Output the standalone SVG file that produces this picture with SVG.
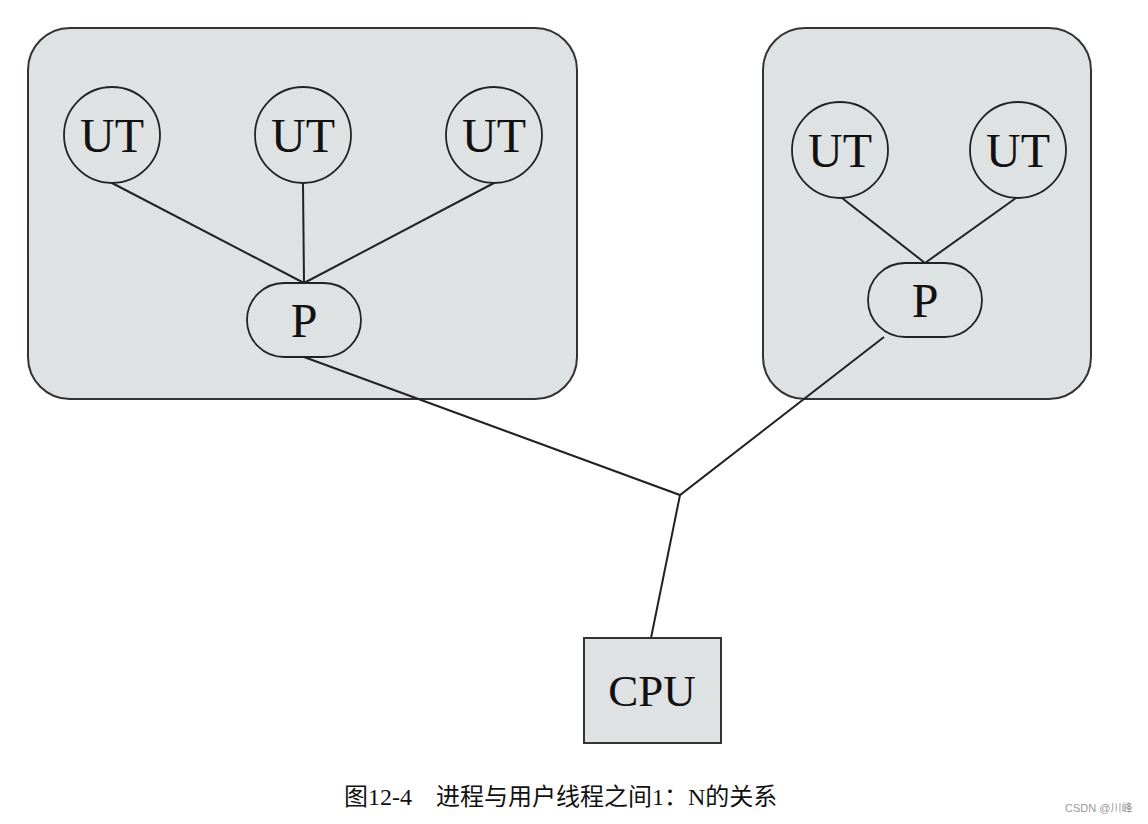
<svg xmlns="http://www.w3.org/2000/svg" width="1148" height="824" viewBox="0 0 1148 824">
<style>
.box{fill:#dfe2e3;stroke:#333;stroke-width:2}
.node{fill:#dfe2e3;stroke:#222;stroke-width:1.8}
.lbl{font-family:"Liberation Serif","Times New Roman",serif;font-size:48px;fill:#111;text-anchor:middle}
.edge{stroke:#222;stroke-width:2;fill:none}
.cap{font-family:"Liberation Serif","Noto Sans CJK SC",serif;font-size:24px;fill:#111}
.wm{font-family:"Liberation Sans","Noto Sans CJK SC",sans-serif;font-size:11px;fill:#999}
</style>
<rect width="1148" height="824" fill="#fff"/>
<g id="process1">
<rect class="box" x="28" y="28" width="549" height="371" rx="42"/>
</g>
<g id="process2">
<rect class="box" x="763" y="28" width="328" height="371" rx="42"/>
</g>
<g id="connectors">
<line class="edge" x1="112" y1="183" x2="304" y2="283"/>
<line class="edge" x1="303" y1="183" x2="304" y2="283"/>
<line class="edge" x1="494" y1="183" x2="304" y2="283"/>
<line class="edge" x1="842" y1="198" x2="925" y2="263"/>
<line class="edge" x1="1016" y1="198" x2="925" y2="263"/>
<polyline class="edge" points="304,357 680,495 884,337"/>
<line class="edge" x1="680" y1="495" x2="651" y2="638"/>
</g>
<g id="ut1"><circle class="node" cx="112" cy="135" r="48"/><text class="lbl" x="112" y="152">UT</text></g>
<g id="ut2"><circle class="node" cx="303" cy="135" r="48"/><text class="lbl" x="303" y="152">UT</text></g>
<g id="ut3"><circle class="node" cx="494" cy="135" r="48"/><text class="lbl" x="494" y="152">UT</text></g>
<g id="p1"><rect class="node" x="247" y="283" width="114" height="74" rx="37"/><text class="lbl" x="304" y="337">P</text></g>
<g id="ut4"><circle class="node" cx="840" cy="150" r="48"/><text class="lbl" x="840" y="167">UT</text></g>
<g id="ut5"><circle class="node" cx="1018" cy="150" r="48"/><text class="lbl" x="1018" y="167">UT</text></g>
<g id="p2"><rect class="node" x="868" y="263" width="114" height="74" rx="37"/><text class="lbl" x="925" y="317">P</text></g>
<g id="cpu"><rect class="box" x="584" y="638" width="137" height="105"/><text class="lbl" x="652" y="706" style="font-size:45px">CPU</text></g>
<text class="cap" x="344" y="805">图12-4</text>
<text class="cap" x="436" y="805">进程与用户线程之间1：N的关系</text>
<text class="wm" x="1065" y="812">CSDN @川峰</text>
</svg>
